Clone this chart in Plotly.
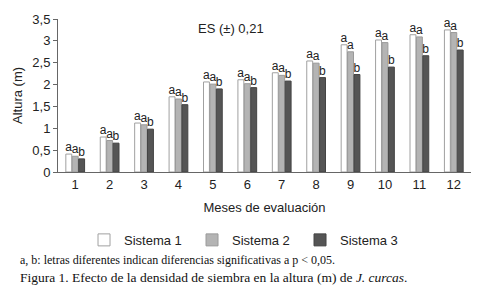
import plotly.graph_objects as go

months = ["1", "2", "3", "4", "5", "6", "7", "8", "9", "10", "11", "12"]
sistema1 = [0.41, 0.80, 1.12, 1.72, 2.06, 2.11, 2.27, 2.54, 2.91, 3.02, 3.14, 3.25]
sistema2 = [0.36, 0.72, 1.08, 1.67, 2.01, 2.02, 2.21, 2.49, 2.75, 2.96, 3.09, 3.19]
sistema3 = [0.30, 0.66, 0.98, 1.54, 1.90, 1.93, 2.08, 2.16, 2.23, 2.40, 2.66, 2.79]
letters1 = ["a"] * 12
letters2 = ["a"] * 12
letters3 = ["b"] * 12
y_ticks = [0, 0.5, 1, 1.5, 2, 2.5, 3, 3.5]

font = "Arial, Liberation Sans, sans-serif"
serif = "Times New Roman, Liberation Serif, serif"

fig = go.Figure()
series = [
    ("Sistema 1", sistema1, letters1, "#ffffff", "#a0a0a0"),
    ("Sistema 2", sistema2, letters2, "#b4b4b4", "#9a9a9a"),
    ("Sistema 3", sistema3, letters3, "#555555", "#444444"),
]
for name, vals, lets, fill, line in series:
    fig.add_trace(go.Bar(
        x=months, y=vals, name=name, text=lets,
        textposition="outside", cliponaxis=False, constraintext="none",
        textfont=dict(family=font, size=12, color="#222"),
        outsidetextfont=dict(family=font, size=12, color="#222"),
        marker=dict(color=fill, line=dict(color=line, width=1)),
    ))

fig.update_layout(
    width=479, height=291,
    margin=dict(l=58, r=8, t=19, b=119, autoexpand=False),
    paper_bgcolor="white", plot_bgcolor="white",
    barmode="group", bargap=0.44, bargroupgap=0.08,
    separators=",.",
    font=dict(family=font, size=13, color="#222"),
    showlegend=True,
    legend=dict(orientation="h", x=0.063, xanchor="left", y=-0.444, yanchor="middle",
                font=dict(family=font, size=13, color="#222"), itemwidth=30,
                entrywidth=63, entrywidthmode="pixels",
                traceorder="normal"),
    xaxis=dict(showline=True, linecolor="#666", linewidth=1, ticks="",
               tickfont=dict(size=13), showgrid=False,
               title=dict(text="Meses de evaluación", font=dict(size=13), standoff=12)),
    yaxis=dict(range=[0, 3.5], tickvals=y_ticks, showline=True, linecolor="#666",
               linewidth=1, ticks="outside", ticklen=4, tickcolor="#666",
               showgrid=False, zeroline=False, tickfont=dict(size=13),
               title=dict(text="Altura (m)", font=dict(size=13), standoff=6)),
    annotations=[
        dict(text="ES (±) 0,21", x=0.42, y=1.0, xref="paper", yref="paper",
             xanchor="center", yanchor="top", showarrow=False,
             font=dict(family=font, size=13, color="#222")),
        dict(text="a, b: letras diferentes indican diferencias significativas a p < 0,05.",
             x=-0.097, y=-0.575, xref="paper", yref="paper", xanchor="left",
             yanchor="middle", showarrow=False,
             font=dict(family=serif, size=12, color="#111")),
        dict(text="Figura 1. Efecto de la densidad de siembra en la altura (m) de <i>J. curcas</i>.",
             x=-0.097, y=-0.69, xref="paper", yref="paper", xanchor="left",
             yanchor="middle", showarrow=False,
             font=dict(family=serif, size=13.5, color="#111")),
    ],
)

fig.write_html("out.html", config={"displayModeBar": False},
               post_script="document.body.style.margin='0';")
